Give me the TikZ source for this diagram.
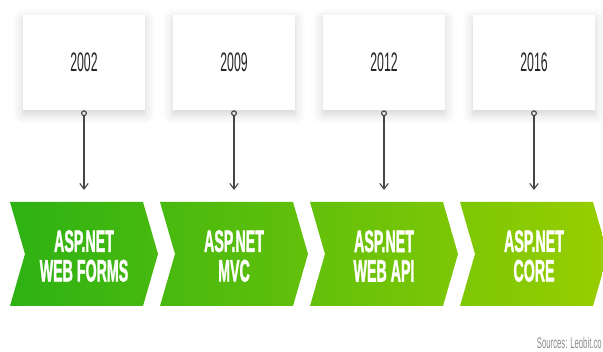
\documentclass[tikz,border=0pt]{standalone}
\usepackage{fontspec}
\usepackage{graphicx}
\setmainfont{Liberation Sans}
\newfontface\heavyfont[FakeBold=2]{Liberation Sans Bold}
\usetikzlibrary{arrows.meta,positioning,calc,shadows.blur}

\definecolor{greenL}{RGB}{45,178,20}
\definecolor{greenR}{RGB}{152,206,0}
\definecolor{pinGray}{RGB}{70,70,70}
\definecolor{srcGray}{RGB}{140,140,140}
\newcommand{\slim}[1]{\scalebox{0.46}[1]{#1}}

\begin{document}
\begin{tikzpicture}[x=0.025cm, y=0.025cm,
    yearbox/.style={fill=white, minimum width=3.05cm, minimum height=2.375cm,
        blur shadow={shadow xshift=0pt, shadow yshift=-3pt, shadow blur radius=7pt, shadow opacity=18}},
    yeartext/.style={font=\fontsize{19}{19}\selectfont, text=black!85},
    pin/.style={draw=pinGray, line width=0.8pt, {Circle[open, length=4.2pt, width=4.2pt]}-{Straight Barb[length=4pt, width=6pt]}},
    chevtext/.style={font=\fontsize{22}{21}\heavyfont, text=white, align=center}]

    \useasboundingbox (0,0) rectangle (603,352);

    % Year boxes
    \node[yearbox] (y2002) at (84,289.5) {};
    \node[yearbox] (y2009) at (234,289.5) {};
    \node[yearbox] (y2012) at (384,289.5) {};
    \node[yearbox] (y2016) at (534,289.5) {};
    \node[yeartext] at (y2002) {\slim{2002}};
    \node[yeartext] at (y2009) {\slim{2009}};
    \node[yeartext] at (y2012) {\slim{2012}};
    \node[yeartext] at (y2016) {\slim{2016}};

    % Chevrons (one gradient across the band)
    \shade[left color=greenL, right color=greenR!25!greenL]
        (10,150) -- (143,150) -- (158,98) -- (143,46) -- (10,46) -- (25,98) -- cycle;
    \shade[left color=greenR!25!greenL, right color=greenR!50!greenL]
        (160,150) -- (293,150) -- (308,98) -- (293,46) -- (160,46) -- (175,98) -- cycle;
    \shade[left color=greenR!50!greenL, right color=greenR!75!greenL]
        (310,150) -- (443,150) -- (458,98) -- (443,46) -- (310,46) -- (325,98) -- cycle;
    \shade[left color=greenR!75!greenL, right color=greenR]
        (460,150) -- (593,150) -- (608,98) -- (593,46) -- (460,46) -- (475,98) -- cycle;

    % Chevron labels
    \node[chevtext] (webforms) at (84,96) {\slim{ASP.NET}\\\slim{WEB FORMS}};
    \node[chevtext] (mvc) at (234,96) {\slim{ASP.NET}\\\slim{MVC}};
    \node[chevtext] (webapi) at (384,96) {\slim{ASP.NET}\\\slim{WEB API}};
    \node[chevtext] (core) at (534,96) {\slim{ASP.NET}\\\slim{CORE}};

    % Pins from years to chevrons
    \coordinate (e1) at (84,162);
    \coordinate (e2) at (234,162);
    \coordinate (e3) at (384,162);
    \coordinate (e4) at (534,162);
    \draw[pin] (y2002.south) -- (e1);
    \draw[pin] (y2009.south) -- (e2);
    \draw[pin] (y2012.south) -- (e3);
    \draw[pin] (y2016.south) -- (e4);

    % Source note
    \node[anchor=east, inner sep=0pt, text=srcGray, font=\fontsize{11}{11}\selectfont] (src) at (602,9) {\scalebox{0.5}[1]{Sources: Leobit.co}};
\end{tikzpicture}
\end{document}
